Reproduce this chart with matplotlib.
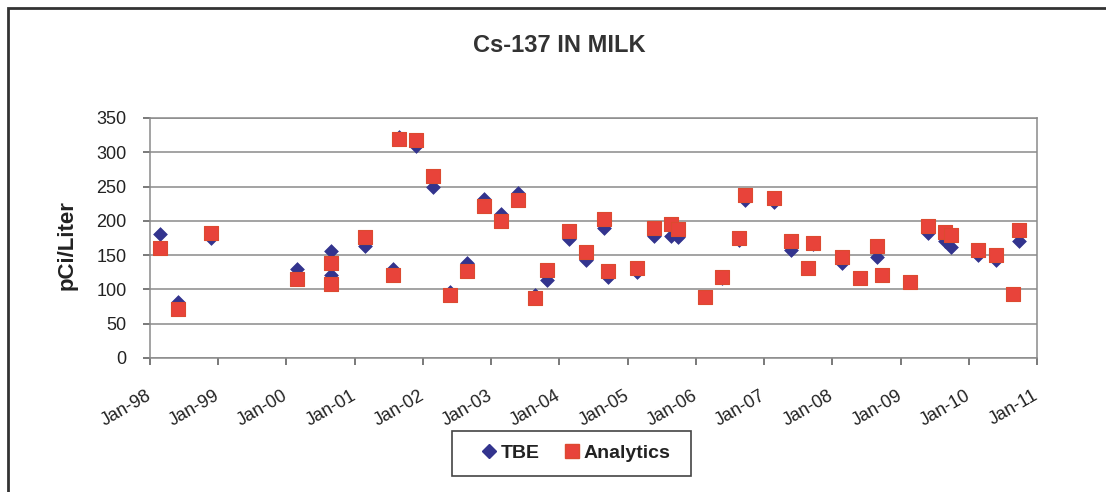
import matplotlib
matplotlib.use("Agg")
import matplotlib.pyplot as plt
import matplotlib.dates as mdates
from matplotlib.patches import Rectangle
from matplotlib.lines import Line2D
from matplotlib.transforms import ScaledTranslation
import pandas as pd

plt.rcParams['font.family'] = ['Liberation Sans', 'DejaVu Sans']

dates = ["1998-02-24", "1998-05-30", "1998-11-24", "2000-02-28", "2000-08-29", "2000-08-29",
         "2001-02-24", "2001-07-24", "2001-08-26", "2001-11-24", "2002-02-24", "2002-05-26",
         "2002-08-26", "2002-11-24", "2003-02-21", "2003-05-26", "2003-08-26", "2003-10-27",
         "2004-02-21", "2004-05-23", "2004-08-26", "2004-09-20", "2005-02-21", "2005-05-23",
         "2005-08-22", "2005-09-27", "2006-02-21", "2006-05-23", "2006-08-22", "2006-09-20",
         "2007-02-21", "2007-05-23", "2007-08-22", "2007-09-20", "2008-02-21", "2008-05-26",
         "2008-08-26", "2008-09-24", "2009-02-21", "2009-05-26", "2009-08-26", "2009-09-27",
         "2010-02-21", "2010-05-26", "2010-08-26", "2010-09-24"]
tbe = [181, 82, 175, 130, 156, 121, 164, 130, 323, 309, 250, 96,
       138, 232, 210, 240, 92, 114, 173, 143, 190, 118, 126, 178,
       178, 176, 89, 117, 172, 231, 228, 157, 131, 166, 139, 116,
       148, 121, 111, 183, 170, 162, 150, 143, 94, 171]
analytics = [161, 71, 183, 115, 139, 108, 177, 121, 319, 318, 266, 92,
             127, 221, 200, 231, 88, 129, 185, 155, 202, 127, 131, 189,
             195, 188, 89, 118, 175, 237, 234, 170, 131, 167, 147, 116,
             163, 121, 111, 192, 184, 179, 158, 150, 94, 186]
series_names = ["TBE", "Analytics"]
title = "Cs-137 IN MILK"
ylabel = "pCi/Liter"
x_start, x_end = "1998-01-01", "2011-01-01"
y_ticks = [0, 50, 100, 150, 200, 250, 300, 350]

TBE_COLOR = '#33348e'
AN_COLOR = '#e8433a'
AN_EDGE = '#dc4a30'

x = pd.to_datetime(dates)

fig = plt.figure(figsize=(11.06, 4.92), dpi=100)
W, H = 1106, 492
ax = fig.add_axes([150 / W, 1 - 358 / H, (1037 - 150) / W, (358 - 118) / H])

ax.scatter(x, tbe, marker='D', s=7.0 ** 2, color=TBE_COLOR, edgecolors=TBE_COLOR,
           linewidths=0.5, zorder=3, label=series_names[0])
ax.scatter(x, analytics, marker='s', s=10.5 ** 2, color=AN_COLOR, edgecolors=AN_EDGE,
           linewidths=0.8, zorder=4, label=series_names[1])

ax.set_xlim(pd.Timestamp(x_start), pd.Timestamp(x_end))
ax.set_ylim(y_ticks[0], y_ticks[-1])
ax.set_yticks(y_ticks)
ax.xaxis.set_major_locator(mdates.YearLocator())
ax.xaxis.set_major_formatter(mdates.DateFormatter('%b-%y'))

ax.grid(axis='y', color='#8a8a8a', linewidth=1.1, zorder=0)
ax.set_axisbelow(True)
for s in ax.spines.values():
    s.set_color('#8a8a8a')
    s.set_linewidth(1.1)

ax.tick_params(axis='y', direction='out', length=5, width=1.1, color='#555555',
               labelsize=13, pad=12, labelcolor='#222222')
ax.tick_params(axis='x', direction='out', length=5, width=1.1, color='#555555',
               labelsize=13, pad=16, labelcolor='#222222')
shift = ScaledTranslation(-4 / 100, 0, fig.dpi_scale_trans)
for lab in ax.get_xticklabels():
    lab.set_rotation(30)
    lab.set_ha('right')
    lab.set_va('top')
    lab.set_rotation_mode('anchor')
    lab.set_transform(lab.get_transform() + shift)

ax.set_ylabel(ylabel, fontsize=16, fontweight='bold', color='#222222', va='center')
ax.yaxis.set_label_coords(67 / W, 1 - 245 / H, transform=fig.transFigure)

fig.text(559 / W, 1 - 46 / H, title, ha='center', va='center', fontsize=17,
         fontweight='bold', color='#333333')

handles = [Line2D([], [], linestyle='none', marker='D', markersize=7.2,
                  markerfacecolor=TBE_COLOR, markeredgecolor=TBE_COLOR),
           Line2D([], [], linestyle='none', marker='s', markersize=10.5,
                  markerfacecolor=AN_COLOR, markeredgecolor=AN_EDGE)]
leg = fig.legend(handles, series_names, loc='center', bbox_to_anchor=(576 / W, 1 - 453 / H),
                 ncol=2, prop={'weight': 'bold', 'size': 14}, frameon=False,
                 handlelength=0.75, handletextpad=0.2, columnspacing=1.3, borderpad=0)
for t in leg.get_texts():
    t.set_color('#222222')

fig.add_artist(Rectangle((452 / W, 1 - 476 / H), (691 - 452) / W, (476 - 431) / H,
                         transform=fig.transFigure, fill=False, edgecolor='#444444',
                         linewidth=1.2))

fig.add_artist(Rectangle((8 / W, -0.1), 1.2, 1 - 8 / H + 0.1, transform=fig.transFigure,
                         fill=False, edgecolor='#333333', linewidth=2))

fig.savefig('out.png', dpi=100)
